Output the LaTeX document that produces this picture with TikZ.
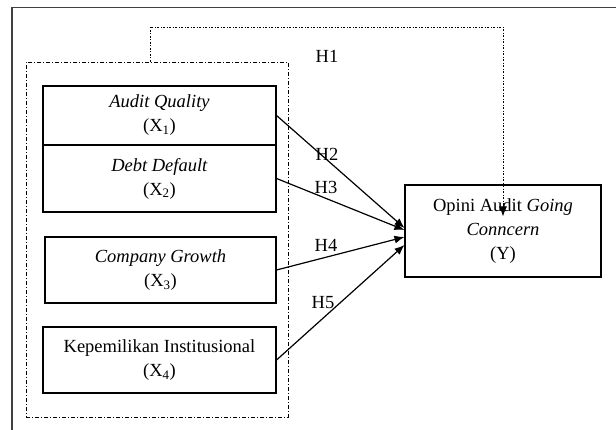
\documentclass[tikz,border=0pt]{standalone}
\usepackage{fontspec}
\setmainfont{Liberation Serif}
\usepackage{tikz}
\usetikzlibrary{arrows.meta, calc, positioning}
\tikzset{
    varbox/.style={draw, line width=1.1pt, align=center, inner sep=0pt},
    grpbox/.style={draw, line width=0.9pt, dash pattern=on 4pt off 2pt on 1pt off 2pt},
    hline/.style={line width=0.9pt, dash pattern=on 2pt off 1.5pt on 1pt off 1.5pt},
    path/.style={line width=1.2pt},
    tip/.style={-{Latex[length=10pt,width=8pt]}}
}

\begin{document}
\begin{tikzpicture}[x=1pt, y=-1pt, font=\fontsize{18.5}{24}\selectfont]
                        \useasboundingbox (0, 0) rectangle (616, 430);
                        \fill[white] (0, 0) rectangle (616, 430);
                        \draw[line width=1.6pt, black!75] (12, 430) |- (616, 7.5);

                        \node[grpbox, minimum width=262, minimum height=355] (grp) at (157, 239.5) {};

                        \node[varbox, minimum width=233, minimum height=59] (aq) at (159.5, 115.5) {\textit{Audit Quality}\\(X\textsubscript{1})};
                        \node[varbox, minimum width=233, minimum height=67] (dd) at (159.5, 178.5) {\textit{Debt Default}\\(X\textsubscript{2})};
                        \node[varbox, minimum width=231, minimum height=66] (cg) at (160.5, 270) {\textit{Company Growth}\\(X\textsubscript{3})};
                        \node[varbox, minimum width=233, minimum height=66] (ki) at (159.5, 360) {Kepemilikan Institusional\\(X\textsubscript{4})};
                        \node[varbox, minimum width=196, minimum height=92] (oag) at (503, 231) {Opini Audit \textit{Going}\\\textit{Conncern}\\(Y)};

                        \node at (327, 56) {H1};
                        \node at (327, 154) {H2};
                        \node at (326, 187) {H3};
                        \node at (326, 245) {H4};
                        \node at (323, 303) {H5};

                        \draw[hline, tip] ([xshift=-7pt]grp.north) |- (oag.north |- 0, 27) -- ([yshift=-32pt]oag.north);

                        \draw[path]
                        (aq.east) edge[tip] ([yshift=3pt]oag.west)
                        (dd.east) edge[tip] ([yshift=1pt]oag.west)
                        (cg.east) edge[tip] ([yshift=-6pt]oag.west)
                        (ki.east) edge[tip] ([yshift=-14pt]oag.west);
                    \end{tikzpicture}
\end{document}
